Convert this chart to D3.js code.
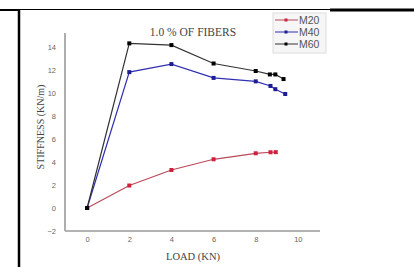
<!DOCTYPE html>
<html><head><meta charset="utf-8">
<script src="https://cdn.jsdelivr.net/npm/d3@7"></script>
<style>body{margin:0;background:#fff}svg{display:block}</style>
</head><body>
<svg id="c" width="414" height="267"></svg>
<script>
const loadM20 = [0, 2, 4, 6, 8, 8.7, 8.95];
const stiffM20 = [0, 1.95, 3.3, 4.23, 4.75, 4.84, 4.85];
const loadM40 = [0, 2, 4, 6, 8, 8.7, 8.93, 9.4];
const stiffM40 = [0, 11.8, 12.5, 11.3, 11.0, 10.6, 10.32, 9.9];
const loadM60 = [0, 2, 4, 6, 8, 8.67, 8.93, 9.32];
const stiffM60 = [0, 14.3, 14.15, 12.55, 11.9, 11.6, 11.6, 11.2];
const xTicks = [0, 2, 4, 6, 8, 10];
const yTicks = [-2, 0, 2, 4, 6, 8, 10, 12, 14];
const seriesNames = ["M20", "M40", "M60"];

const series = [
  {name: seriesNames[0], x: loadM20, y: stiffM20, line: "#b84a58", mark: "#d21f3c"},
  {name: seriesNames[1], x: loadM40, y: stiffM40, line: "#3030b0", mark: "#1c1c96"},
  {name: seriesNames[2], x: loadM60, y: stiffM60, line: "#333333", mark: "#000000"}
];

const svg = d3.select("#c");
// table borders
svg.append("line").attr("x1",0).attr("x2",330).attr("y1",9.5).attr("y2",9.5).attr("stroke","#000").attr("stroke-width",1);
svg.append("line").attr("x1",330).attr("x2",414).attr("y1",10).attr("y2",10).attr("stroke","#000").attr("stroke-width",3);
svg.append("line").attr("x1",0).attr("x2",19).attr("y1",10).attr("y2",10).attr("stroke","#000").attr("stroke-width",2);
svg.append("line").attr("x1",19).attr("x2",19).attr("y1",9).attr("y2",267).attr("stroke","#000").attr("stroke-width",2.5);

const x = d3.scaleLinear().domain([-1.05, 11.05]).range([65, 320]);
const y = d3.scaleLinear().domain([-2, 15.2]).range([231, 33]);

// axes
const axisColor = "#9a9a9a";
svg.append("line").attr("x1",65).attr("x2",65).attr("y1",y(15.2)).attr("y2",y(-2)).attr("stroke",axisColor).attr("stroke-width",1.6);
svg.append("line").attr("x1",65).attr("x2",320).attr("y1",y(-2)).attr("y2",y(-2)).attr("stroke",axisColor).attr("stroke-width",1.6);

const yAxis = d3.axisLeft(y).tickValues(yTicks).tickSize(0).tickPadding(0);
const gy = svg.append("g").attr("transform","translate(56,0)").call(yAxis);
gy.select(".domain").remove();
gy.selectAll("text").attr("font-family","Liberation Sans, Arial, sans-serif").attr("font-size",7.5).attr("fill","#666");

const xAxis = d3.axisBottom(x).tickValues(xTicks).tickSize(0).tickPadding(0);
const gx = svg.append("g").attr("transform","translate(0,237)").call(xAxis);
gx.select(".domain").remove();
gx.selectAll("text").attr("font-family","Liberation Sans, Arial, sans-serif").attr("font-size",7.5).attr("fill","#666");

// labels
svg.append("text").attr("x",193).attr("y",260).attr("text-anchor","middle")
  .attr("font-family","Liberation Serif, Times New Roman, serif").attr("font-size",10.5).attr("fill","#444").text("LOAD (KN)");
svg.append("text").attr("transform","translate(44,127) rotate(-90)").attr("text-anchor","middle")
  .attr("font-family","Liberation Serif, Times New Roman, serif").attr("font-size",10).attr("fill","#444").text("STIFFNESS (KN/m)");
svg.append("text").attr("x",193).attr("y",36).attr("text-anchor","middle")
  .attr("font-family","Liberation Serif, Times New Roman, serif").attr("font-size",11.5).attr("fill","#444").text("1.0 % OF FIBERS");

// series
const lineGen = d3.line().x(d => x(d[0])).y(d => y(d[1]));
series.forEach(s => {
  const pts = s.x.map((v,i) => [v, s.y[i]]);
  svg.append("path").attr("d", lineGen(pts)).attr("fill","none").attr("stroke",s.line).attr("stroke-width",1.2);
  svg.selectAll(null).data(pts).enter().append("rect")
    .attr("x", d => x(d[0]) - 2).attr("y", d => y(d[1]) - 2)
    .attr("width",4).attr("height",4).attr("fill",s.mark);
});

// legend
const lg = svg.append("g");
lg.append("rect").attr("x",273).attr("y",13).attr("width",53).attr("height",40).attr("fill","#f6f6f6").attr("stroke","#dddddd").attr("stroke-width",1);
series.forEach((s,i) => {
  const ly = 20 + i*12;
  lg.append("line").attr("x1",275).attr("x2",298).attr("y1",ly).attr("y2",ly).attr("stroke",s.line).attr("stroke-width",1);
  lg.append("rect").attr("x",284.5).attr("y",ly-1.5).attr("width",3).attr("height",3).attr("fill",s.mark);
  lg.append("text").attr("x",299).attr("y",ly+3.8).attr("font-family","Liberation Sans, Arial, sans-serif").attr("font-size",10.5).attr("fill","#555").text(s.name);
});
</script>
</body></html>
